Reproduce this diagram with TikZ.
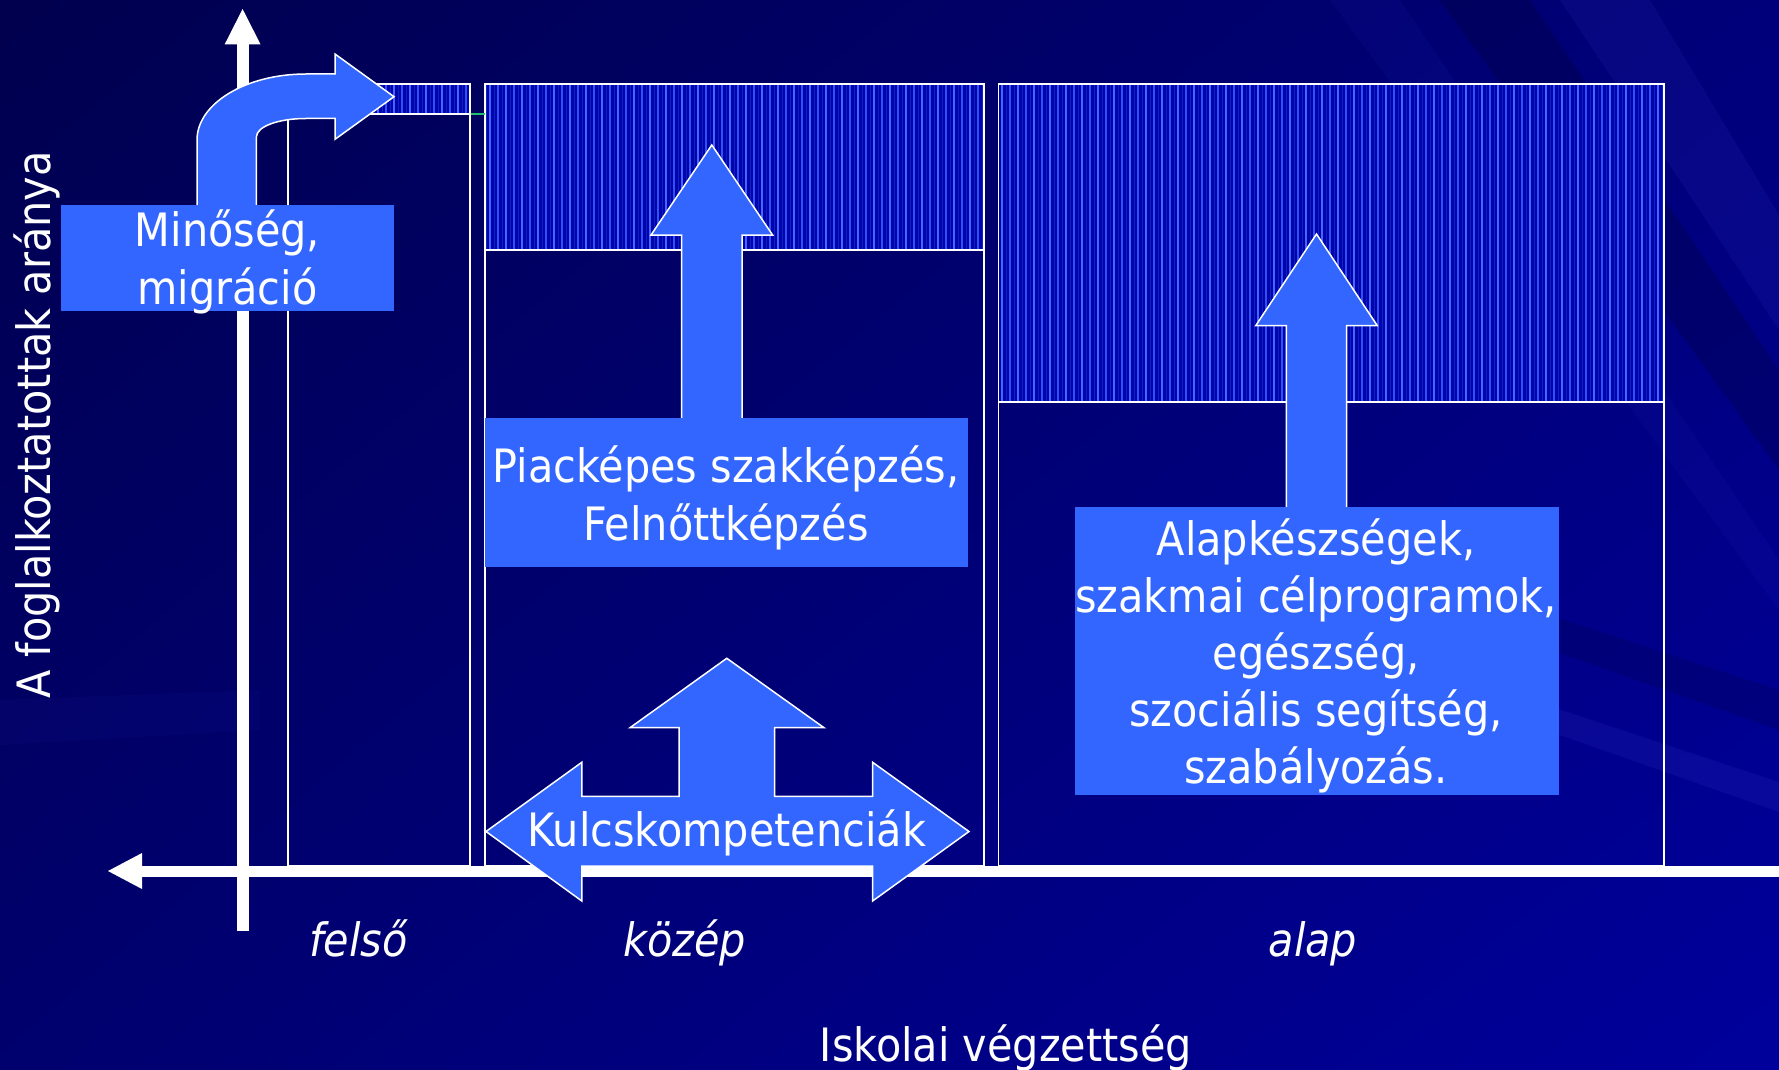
\documentclass[tikz,border=0pt]{standalone}
\usepackage{fontspec}
\IfFontExistsTF{DejaVu Sans Condensed}{\setmainfont{DejaVu Sans Condensed}}{\setmainfont{DejaVu Sans}}
\usetikzlibrary{shadings}
\definecolor{boxblue}{HTML}{3366FF}
\definecolor{hatchbase}{HTML}{0004AA}
\definecolor{hatchA}{HTML}{4466FF}
\definecolor{hatchB}{HTML}{3052F4}
\definecolor{hatchC}{HTML}{0C22C4}
\definecolor{bgTL}{HTML}{00004E}
\definecolor{bgTR}{HTML}{00007A}
\definecolor{bgBL}{HTML}{00006E}
\definecolor{bgBR}{HTML}{00009C}
\definecolor{streak}{HTML}{3A3AD0}
\definecolor{glitch}{HTML}{20C070}
\begin{document}
\begin{tikzpicture}[x=0.5pt,y=-0.5pt,
  txt/.style={text=white,font=\fontsize{23}{28.5}\selectfont,inner sep=0pt,anchor=base},
  itxt/.style={txt,font=\fontsize{23}{28.5}\selectfont\itshape},
  bluebox/.style={fill=boxblue,draw=none,inner sep=0pt},
  blockarrow/.style={fill=boxblue,draw=white,line width=0.75pt,line join=miter},
  colframe/.style={draw=white,line width=0.8pt},
  axisfill/.style={fill=white,draw=none}]
\useasboundingbox (0,0) rectangle (1779,1070);
% ---------- background ----------
\shade[upper left=bgTL,upper right=bgTR,lower left=bgBL,lower right=bgBR] (0,0) rectangle (1779,1070);
\fill[streak,opacity=0.12] (1560,0) -- (1650,0) -- (1779,215) -- (1779,330) -- cycle;
\fill[black,opacity=0.16] (1440,0) -- (1530,0) -- (1779,370) -- (1779,470) -- cycle;
\fill[streak,opacity=0.08] (1330,0) -- (1400,0) -- (1779,560) -- (1779,610) -- cycle;
\fill[streak,opacity=0.16] (1380,650) -- (1779,782) -- (1779,812) -- (1380,672) -- cycle;
\fill[black,opacity=0.12] (1380,560) -- (1779,690) -- (1779,730) -- (1380,590) -- cycle;
\fill[streak,opacity=0.06] (0,700) -- (260,690) -- (260,730) -- (0,745) -- cycle;
% ---------- hatched tops of the columns ----------
\begin{scope}
  \clip (288,84) rectangle (470,114) (485,84) rectangle (984,250) (998.5,84) rectangle (1664,402);
  \fill[hatchbase] (280,80) rectangle (1670,410);
  \foreach \x in {282,298,...,1670} {
    \draw[hatchA,line width=1.0pt] (\x,80) -- (\x,410);
    \draw[hatchC,line width=0.4pt] (\x+4,80) -- (\x+4,410);
    \draw[hatchB,line width=0.8pt] (\x+8,80) -- (\x+8,410);
    \draw[hatchC,line width=0.4pt] (\x+12,80) -- (\x+12,410);
  }
\end{scope}
% ---------- column frames ----------
\draw[colframe] (288,84) rectangle (470,866);
\draw[colframe] (288,114) -- (470,114);
\draw[colframe] (485,84) rectangle (984,866);
\draw[colframe] (485,250) -- (984,250);
\draw[colframe] (998.5,84) rectangle (1664,866);
\draw[colframe] (998.5,402) -- (1664,402);
\draw[glitch,line width=0.6pt] (470.5,114) -- (484.5,114);
% ---------- axes ----------
\fill[axisfill] (236.5,44) rectangle (248.7,931);
\fill[axisfill] (242.6,9) -- (260.6,44.5) -- (224.6,44.5) -- cycle;
\fill[axisfill] (142,865.5) rectangle (1779,876.5);
\fill[axisfill] (108,871) -- (142,853) -- (142,889) -- cycle;
\node[txt,rotate=90] (ylab) at (50,425) {A foglalkoztatottak aránya};
% ---------- Minőség, migráció ----------
\draw[blockarrow] (197,208) -- (197,140) .. controls (197,103.6) and (245.8,74) .. (306,74)
  -- (335,74) -- (335,54) -- (394,96.7) -- (335,139.3) -- (335,118.5) -- (306,118.5)
  .. controls (278.4,118.5) and (256.4,126.5) .. (256.4,137) -- (256.4,208) -- cycle;
\node[bluebox,minimum width=166.5pt,minimum height=53pt] (mbox) at (227.5,258) {};
\node[txt] (m1) at (227.5,247) {Minőség,};
\node[txt] (m2) at (227.5,304) {migráció};
% ---------- Piacképes szakképzés ----------
\draw[blockarrow] (681.5,420) -- (681.5,235) -- (651,235) -- (711.8,145) -- (772.6,235) -- (742,235) -- (742,420) -- cycle;
\node[bluebox,minimum width=241.75pt,minimum height=74.75pt] (pbox) at (726.25,492.25) {};
\node[txt] (p1) at (726,482) {Piacképes szakképzés,};
\node[txt] (p2) at (726,540) {Felnőttképzés};
% ---------- Alapkészségek ----------
\draw[blockarrow] (1286.3,510) -- (1286.3,325.7) -- (1255.7,325.7) -- (1316.5,234) -- (1377.3,325.7) -- (1346.6,325.7) -- (1346.6,510) -- cycle;
\node[bluebox,minimum width=242.25pt,minimum height=144pt] (abox) at (1316.75,651) {};
\node[txt] (a1) at (1316,555) {Alapkészségek,};
\node[txt] (a2) at (1316,612) {szakmai célprogramok,};
\node[txt] (a3) at (1316,669) {egészség,};
\node[txt] (a4) at (1316,726) {szociális segítség,};
\node[txt] (a5) at (1316,783) {szabályozás.};
% ---------- Kulcskompetenciák ----------
\draw[blockarrow] (486,831.5) -- (581.8,762.3) -- (581.8,796.3) -- (679,796.3) -- (679,727.7) -- (630,727.7)
  -- (726.8,658.3) -- (824,727.7) -- (774.7,727.7) -- (774.7,796.3) -- (872.6,796.3) -- (872.6,762.3)
  -- (969,831.5) -- (872.6,901) -- (872.6,866) -- (581.8,866) -- (581.8,901) -- cycle;
\node[txt] (k1) at (727,846) {Kulcskompetenciák};
% ---------- axis labels ----------
\node[itxt] (felso) at (358.6,956.7) {felső};
\node[itxt] (kozep) at (684.7,956.7) {közép};
\node[itxt] (alap) at (1313,956.7) {alap};
\node[txt] (xlab) at (1006,1061) {Iskolai végzettség};
\end{tikzpicture}
\end{document}
